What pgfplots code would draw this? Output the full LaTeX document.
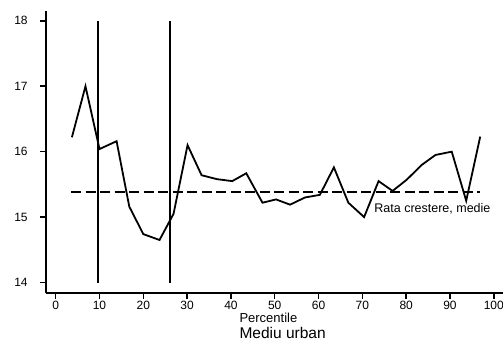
\documentclass[border=0pt]{standalone}
\usepackage{pgfplots}
\pgfplotsset{compat=1.18}
\usepackage{fontspec}
\setmainfont{Liberation Sans}
\begin{document}
\begin{tikzpicture}
\useasboundingbox (-45.7pt,-50pt) rectangle (457.3pt,293pt);
\begin{axis}[
  at={(0pt,0pt)}, anchor=south west,
  scale only axis, width=457.3pt, height=282pt,
  xmin=-2.28, xmax=102.1, ymin=13.84, ymax=18.15,
  axis x line=bottom, axis y line=left,
  axis line style={line width=1.8pt,-},
  xtick={0,10,...,100}, ytick={14,15,16,17,18},
  tick align=outside, major tick length=5.5pt,
  tick style={line width=1.5pt,black},
  /pgf/number format/assume math mode=true,
  ticklabel style={font=\fontsize{12}{14}\selectfont},
  yticklabel style={xshift=-9pt},
  xticklabel style={yshift=1pt},
  clip=false,
]
\addplot[black, line width=1.8pt] coordinates {(9.6,14) (9.6,18)};
\addplot[black, line width=1.8pt] coordinates {(26.1,14) (26.1,18)};
\addplot[black, line width=1.8pt, dash pattern=on 10pt off 4.5pt] coordinates {(3.5,15.38) (96.8,15.38)};
\addplot[black, line width=1.8pt, line join=miter] coordinates {
(3.7,16.22)(6.8,17.0)(10.0,16.04)(13.9,16.16)(16.8,15.16)(20.0,14.74)(23.7,14.65)(26.9,15.05)(30.1,16.1)(33.3,15.64)(36.8,15.58)(40.3,15.55)(43.5,15.67)(47.2,15.22)(50.3,15.27)(53.5,15.19)(56.9,15.30)(60.3,15.34)(63.5,15.76)(66.8,15.22)(70.4,15.0)(73.7,15.55)(76.9,15.40)(80.1,15.57)(83.6,15.80)(86.7,15.95)(90.4,16.0)(93.7,15.25)(96.9,16.23)};
\node[anchor=west, inner sep=0pt, font=\fontsize{12.5}{14}\selectfont] at (axis cs:72.7,15.13) {Rata crestere, medie};
\end{axis}
\node[anchor=west, inner sep=0pt, font=\fontsize{13}{15}\selectfont] at (193.6pt,-25pt) {Percentile};
\node[anchor=west, inner sep=0pt, font=\fontsize{15.5}{17}\selectfont] at (193.6pt,-40pt) {Mediu urban};
\end{tikzpicture}
\end{document}
